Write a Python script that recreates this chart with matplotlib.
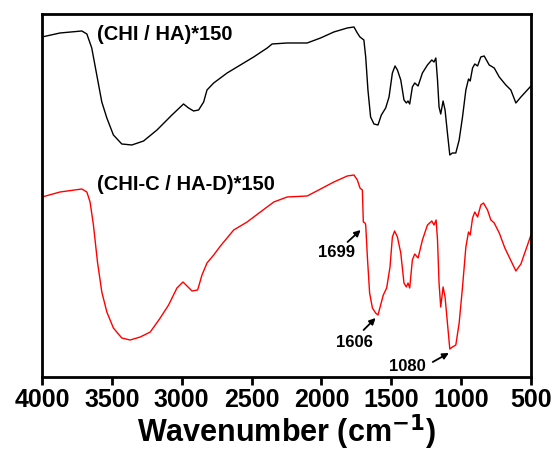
import matplotlib
matplotlib.use("Agg")
from matplotlib import pyplot as plt

plt.rcParams['font.family'] = ['Liberation Sans', 'DejaVu Sans']
plt.rcParams['font.weight'] = 'bold'
plt.rcParams['mathtext.default'] = 'bf'

# (CHI / HA)*150 spectrum: wavenumber (cm-1) vs. arbitrary intensity
wn_black = [4000, 3871, 3715, 3679, 3644, 3608, 3572, 3536, 3489, 3429, 3357, 3273, 3177,
            3070, 2987, 2951, 2915, 2879, 2843, 2819, 2771, 2675, 2580, 2485, 2388, 2353,
            2245, 2102, 2006, 1911, 1815, 1767, 1743, 1724, 1696, 1683, 1667, 1648, 1624,
            1595, 1571, 1540, 1516, 1492, 1473, 1456, 1432, 1409, 1392, 1380, 1368, 1349,
            1332, 1308, 1277, 1241, 1210, 1194, 1181, 1169, 1158, 1146, 1129, 1115, 1098,
            1081, 1062, 1038, 1014, 990, 966, 947, 935, 918, 902, 882, 859, 835, 799, 763,
            727, 680, 644, 608, 572, 500]
y_black = [341, 345, 347, 344, 330, 303, 276, 260, 243, 234, 233, 237, 248,
           263, 274, 270, 267, 268, 276, 288, 295, 305, 313, 321, 330, 334,
           335, 335, 340, 346, 350, 351, 345, 341, 338, 321, 288, 261, 254,
           253, 263, 270, 281, 305, 312, 308, 298, 278, 275, 277, 274, 291,
           295, 292, 305, 313, 318, 316, 320, 298, 271, 264, 277, 268, 245,
           223, 225, 225, 238, 261, 288, 299, 297, 310, 314, 312, 321, 322, 313, 310,
           301, 293, 288, 275, 281, 292]

# (CHI-C / HA-D)*150 spectrum
wn_red = [4000, 3871, 3715, 3679, 3656, 3632, 3603, 3572, 3536, 3489, 3429, 3369, 3297,
          3225, 3154, 3094, 3034, 2991, 2962, 2926, 2886, 2855, 2819, 2771, 2723, 2628,
          2532, 2437, 2341, 2245, 2102, 2006, 1911, 1815, 1767, 1743, 1724, 1707, 1700,
          1688, 1683, 1671, 1655, 1635, 1612, 1595, 1576, 1557, 1533, 1509, 1492, 1476,
          1456, 1432, 1409, 1392, 1380, 1368, 1349, 1332, 1308, 1277, 1241, 1210, 1194,
          1179, 1169, 1158, 1146, 1129, 1115, 1098, 1081, 1062, 1038, 1014, 990, 966,
          947, 935, 918, 902, 882, 859, 840, 811, 787, 763, 727, 687, 608, 572, 500]
y_red = [181, 186, 189, 186, 176, 153, 116, 86, 66, 50, 40, 38, 41,
         46, 60, 73, 90, 96, 92, 87, 88, 103, 115, 123, 132, 148,
         156, 166, 176, 181, 182, 189, 196, 202, 203, 198, 190, 188, 156,
         155, 153, 121, 85, 70, 65, 63, 73, 83, 90, 111, 141, 147,
         141, 125, 95, 91, 95, 90, 118, 124, 120, 138, 153, 157, 153,
         158, 138, 95, 71, 91, 81, 55, 29, 31, 33, 55, 91, 131,
         146, 143, 160, 166, 161, 173, 175, 168, 158, 155, 145, 130, 107, 114, 143]

labels = ["(CHI / HA)*150", "(CHI-C / HA-D)*150"]
peaks = ["1699", "1606", "1080"]

fig = plt.figure(figsize=(5.55, 4.54), dpi=100)
ax = fig.add_axes([0.0757, 0.1696, 0.881, 0.7996])

ax.plot(wn_black, y_black, color="black", lw=1.0)
ax.plot(wn_red, y_red, color="red", lw=1.0)

ax.set_xlim(4000, 500)
ax.set_ylim(1, 364)
ax.set_xticks([4000, 3500, 3000, 2500, 2000, 1500, 1000, 500])
ax.set_yticks([])
ax.tick_params(axis='x', direction='out', length=6, width=2, labelsize=18, pad=2)
for lab in ax.get_xticklabels():
    lab.set_fontweight('bold')
for sp in ax.spines.values():
    sp.set_linewidth(2)

ax.set_xlabel("Wavenumber (cm$^{-1}$)", fontsize=22, fontweight='bold', labelpad=0)

ax.text(3606, 343, labels[0], fontsize=14.5, fontweight='bold', va='center', ha='left')
ax.text(3606, 193, labels[1], fontsize=14.5, fontweight='bold', va='center', ha='left')

arrow = dict(arrowstyle="-|>", color="black", lw=1.3, mutation_scale=9, shrinkA=0, shrinkB=0)
ax.annotate("", xy=(1719, 148), xytext=(1813, 136), arrowprops=arrow)
ax.annotate("", xy=(1612, 60), xytext=(1698, 48), arrowprops=arrow)
ax.annotate("", xy=(1088, 25), xytext=(1203, 16), arrowprops=arrow)
ax.text(1891, 125, peaks[0], fontsize=12, fontweight='bold', ha='center', va='center')
ax.text(1762, 35, peaks[1], fontsize=12, fontweight='bold', ha='center', va='center')
ax.text(1382, 12, peaks[2], fontsize=12, fontweight='bold', ha='center', va='center')

fig.savefig("out.png", dpi=100)
